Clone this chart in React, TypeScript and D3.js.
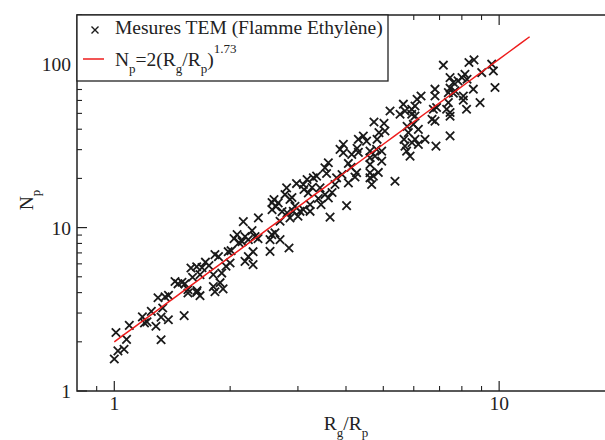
import React, { useEffect } from "react";
import * as d3 from "d3";

// Measured data: Rg/Rp (x) and Np (y)
const rgValues: number[] = [
  1.00, 1.01, 1.022, 1.06, 1.076, 1.094, 1.183, 1.198, 1.216, 1.248, 1.283, 1.299, 1.323, 1.323, 1.336, 1.355, 1.382, 1.383, 1.519, 1.554, 1.637, 1.670,
  1.438, 1.464, 1.499, 1.525, 1.554, 1.582, 1.597, 1.637, 1.641, 1.670, 1.690, 1.725, 1.762, 1.808, 1.809, 1.826, 1.826, 1.865, 1.883, 1.902, 1.917, 1.951, 1.977, 1.999,
  2.011, 2.047, 2.085, 2.109, 2.148, 2.164, 2.186, 2.186, 2.230, 2.230, 2.280, 2.294, 2.294, 2.321, 2.368, 2.363,
  2.539, 2.539, 2.565, 2.570, 2.600, 2.570, 2.630, 2.666, 2.615, 2.696, 2.696, 2.728, 2.777, 2.804, 2.812, 2.844, 2.861, 2.861, 2.895, 2.918, 2.947, 2.975, 3.001, 3.038,
  3.099, 3.111, 3.099, 3.169, 3.193, 3.226, 3.226, 3.265, 3.290, 3.355, 3.390, 3.424, 3.445, 3.527, 3.527, 3.561, 3.599, 3.599, 3.636, 3.680, 3.745, 3.781,
  3.860, 3.906, 3.937, 4.014, 4.057, 4.057, 4.123, 4.140, 4.221, 4.262, 4.274, 4.307, 4.618, 4.618, 4.618, 4.618, 4.664, 4.710, 4.757, 4.803, 4.853, 4.952, 4.952, 5.362, 5.868,
  3.937, 4.307, 4.437, 4.524, 4.618, 4.729, 4.817, 4.872, 5.021, 5.050, 5.206, 5.527, 5.638, 5.660, 5.693, 5.693, 5.748, 5.765, 5.809, 5.927, 5.927, 5.938, 5.985, 6.044, 6.044, 6.044, 6.120, 6.167, 6.167, 6.267, 6.417, 6.693, 6.812, 6.812, 6.879, 6.852, 7.303, 7.380, 7.380, 7.455, 7.455, 7.679,
  7.162, 8.347, 8.603, 7.455, 7.604, 7.820, 8.007, 8.149, 8.252, 7.604, 7.455, 6.812, 8.070, 8.070, 8.569, 8.920, 8.228, 7.455, 6.746, 9.009, 9.566, 9.660, 9.755,
];
const npValues: number[] = [
  1.57, 2.28, 1.76, 1.80, 2.07, 2.52, 2.84, 2.61, 2.65, 3.07, 2.49, 3.72, 2.83, 2.06, 3.22, 3.77, 2.73, 3.85, 2.89, 3.98, 4.01, 3.83,
  4.68, 4.53, 4.63, 4.53, 4.17, 5.66, 4.97, 5.76, 4.11, 5.15, 5.69, 6.14, 5.85, 5.15, 4.35, 4.05, 6.83, 6.64, 4.60, 5.27, 4.22, 5.80, 7.12, 6.07,
  7.22, 8.56, 9.06, 8.09, 8.20, 10.88, 8.80, 6.21, 6.64, 8.44, 9.58, 7.12, 5.93, 8.80, 11.46, 8.56,
  8.44, 7.15, 9.06, 14.23, 14.85, 12.89, 13.44, 14.17, 9.28, 10.93, 8.44, 12.52, 15.93, 17.51, 12.30, 7.50, 11.46, 14.85, 15.28, 12.58, 13.51, 18.60, 11.73, 12.58,
  18.35, 17.10, 12.89, 19.70, 16.32, 13.83, 12.58, 17.60, 20.17, 20.65, 15.06, 17.51, 13.83, 23.24, 15.93, 21.43, 24.94, 15.21, 11.59, 16.39, 18.35, 20.17,
  30.1, 21.14, 28.72, 13.64, 24.69, 18.79, 23.35, 28.04, 20.41, 21.65, 30.52, 28.85, 29.37, 24.35, 21.65, 20.17, 18.35, 20.65, 27.38, 30.1, 21.75, 29.37, 25.50, 19.22, 27.38,
  32.3, 34.7, 36.37, 33.83, 26.76, 44.3, 34.7, 38.1, 43.4, 39.0, 51.7, 49.4, 56.9, 34.7, 51.7, 31.5, 29.37, 41.6, 38.1, 53.0, 49.4, 33.1, 42.8, 55.5, 48.2, 34.7, 61.0, 39.9, 32.3, 63.9, 34.7, 46.0, 44.8, 63.9, 54.3, 31.5, 53.0, 58.2, 67.0, 50.6, 36.4, 68.6,
  98.6, 102.4, 106.3, 82.8, 77.3, 79.0, 82.8, 86.8, 80.9, 66.4, 71.3, 70.3, 63.9, 60.2, 70.3, 58.2, 53.0, 48.0, 53.0, 88.9, 100.0, 90.9, 72.0,
];

// Fit: Np = 2 (Rg/Rp)^1.73
const fitPrefactor = 2;
const fitExponent = 1.73;
const fitRange: number[] = [1, 12];

const xMajorTicks: number[] = [1, 10];
const xMinorTicks: number[] = [0.9, 2, 3, 4, 5, 6, 7, 8, 9, 20];
const yMajorTicks: number[] = [1, 10, 100];
const yMinorTicks: number[] = [2, 3, 4, 5, 6, 7, 8, 9, 20, 30, 40, 50, 60, 70, 80, 90, 200];
const xTickLabels: string[] = ["1", "10"];
const yTickLabels: string[] = ["1", "10", "100"];

const legendLabel1 = "Mesures TEM (Flamme Ethylène)";

const FONT = "Liberation Serif, Tinos, Times New Roman, DejaVu Serif, serif";
const INK = "#222";

export default function App() {
  useEffect(() => {
    document.body.style.margin = "0";
  }, []);

  const W = 605, H = 440;
  const left = 77, right = 615, top = 15, bottom = 391;
  const x = d3.scaleLog().domain([0.8, 20]).range([left, right]);
  const y = d3.scaleLog().domain([1, 200]).range([bottom, top]);

  const fitPts = d3.range(0, 41).map((i) => {
    const t = fitRange[0] * Math.pow(fitRange[1] / fitRange[0], i / 40);
    return [t, fitPrefactor * Math.pow(t, fitExponent)] as [number, number];
  });
  const line = d3.line<[number, number]>().x((d) => x(d[0])).y((d) => y(d[1]));

  const cross = (cx: number, cy: number, s: number) =>
    `M${cx - s},${cy - s}L${cx + s},${cy + s}M${cx - s},${cy + s}L${cx + s},${cy - s}`;

  const fs = 19.5;
  const sfs = 13;
  const ts: React.CSSProperties = { fontFamily: FONT };

  return (
    <svg width={W} height={H} style={{ position: "absolute", left: 0, top: 0, background: "#fff", fontFamily: FONT }}>
      <rect x={0} y={0} width={W} height={H} fill="#fff" />
      <defs>
        <clipPath id="clip">
          <rect x={left} y={top} width={right - left} height={bottom - top} />
        </clipPath>
      </defs>
      {/* data */}
      <g clipPath="url(#clip)">
        {rgValues.map((rg, i) => (
          <path key={i} d={cross(x(rg), y(npValues[i]), 4.2)} stroke="#1a1a1a" strokeWidth={1.8} fill="none" />
        ))}
        <path d={line(fitPts) || ""} stroke="#ee1c1c" strokeWidth={1.5} fill="none" />
      </g>
      {/* frame */}
      <rect x={left} y={top} width={right - left} height={bottom - top} fill="none" stroke={INK} strokeWidth={1.5} />
      {xMajorTicks.map((t) => (
        <g key={"xM" + t}>
          <line x1={x(t)} x2={x(t)} y1={bottom} y2={bottom - 10} stroke={INK} strokeWidth={1.2} />
          <line x1={x(t)} x2={x(t)} y1={top} y2={top + 10} stroke={INK} strokeWidth={1.2} />
        </g>
      ))}
      {xMinorTicks.map((t) => (
        <g key={"xm" + t}>
          <line x1={x(t)} x2={x(t)} y1={bottom} y2={bottom - 5} stroke={INK} strokeWidth={1.1} />
          <line x1={x(t)} x2={x(t)} y1={top} y2={top + 5} stroke={INK} strokeWidth={1.1} />
        </g>
      ))}
      {yMajorTicks.map((t) => (
        <g key={"yM" + t}>
          <line x1={left} x2={left + 10} y1={y(t)} y2={y(t)} stroke={INK} strokeWidth={1.2} />
          <line x1={right} x2={right - 10} y1={y(t)} y2={y(t)} stroke={INK} strokeWidth={1.2} />
        </g>
      ))}
      {yMinorTicks.map((t) => (
        <g key={"ym" + t}>
          <line x1={left} x2={left + 5} y1={y(t)} y2={y(t)} stroke={INK} strokeWidth={1.1} />
          <line x1={right} x2={right - 5} y1={y(t)} y2={y(t)} stroke={INK} strokeWidth={1.1} />
        </g>
      ))}
      {/* tick labels */}
      {xMajorTicks.map((t, i) => (
        <text key={"xl" + t} x={x(t)} y={410} textAnchor="middle" fontSize={fs} fill={INK} style={ts}>
          {xTickLabels[i]}
        </text>
      ))}
      {yMajorTicks.map((t, i) => (
        <text key={"yl" + t} x={71} y={y(t) + 7} textAnchor="end" fontSize={fs} fill={INK} style={ts}>
          {yTickLabels[i]}
        </text>
      ))}
      {/* axis titles */}
      <text x={(left + right) / 2} y={430} textAnchor="middle" fontSize={fs} fill={INK} style={ts}>
        R<tspan dy={7} fontSize={sfs}>g</tspan>
        <tspan dy={-7}>/R</tspan>
        <tspan dy={7} fontSize={sfs}>p</tspan>
      </text>
      <text transform={`translate(33,${(top + bottom) / 2 - 3}) rotate(-90)`} textAnchor="middle" fontSize={fs} fill={INK} style={ts}>
        N<tspan dy={7} fontSize={sfs}>p</tspan>
      </text>
      {/* legend */}
      <rect x={left} y={top} width={311} height={66} fill="#fff" stroke={INK} strokeWidth={1.3} />
      <path d={cross(95, 30, 3.5)} stroke="#1a1a1a" strokeWidth={1.4} fill="none" />
      <text x={115} y={34} fontSize={fs} fill={INK} style={ts}>{legendLabel1}</text>
      <line x1={83} x2={104} y1={59} y2={59} stroke="#ee1c1c" strokeWidth={1.5} />
      <text x={115} y={66} fontSize={fs} fill={INK} style={ts}>
        N<tspan dy={7} fontSize={sfs}>p</tspan>
        <tspan dy={-7}>=2(R</tspan>
        <tspan dy={7} fontSize={sfs}>g</tspan>
        <tspan dy={-7}>/R</tspan>
        <tspan dy={7} fontSize={sfs}>p</tspan>
        <tspan dy={-7}>)</tspan>
        <tspan dy={-13} fontSize={sfs}>1.73</tspan>
      </text>
    </svg>
  );
}
